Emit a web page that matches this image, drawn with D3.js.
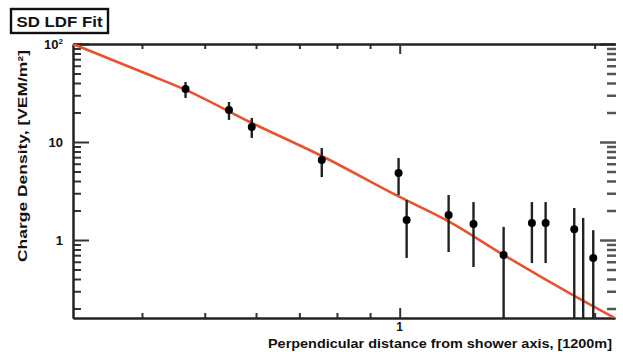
<!DOCTYPE html>
<html><head><meta charset="utf-8">
<script src="https://cdn.jsdelivr.net/npm/d3@7"></script>
<style>
body{margin:0;background:#fff;}
svg text{font-family:"Liberation Sans",Arial,sans-serif;font-weight:bold;fill:#111;}
</style></head>
<body><svg id="c" width="623" height="352"></svg>
<script>
// data (r in units of 1200 m, rho in VEM/m^2)
const pointR    = [0.467,0.545,0.591,0.758,0.996,1.025,1.19,1.30,1.447,1.60,1.68,1.86,1.92,1.99];
const pointRho  = [34.7,21.2,14.2,6.55,4.83,1.60,1.80,1.46,0.703,1.49,1.49,1.29,0.10,0.655];
const errHigh   = [40.9,25.6,17.6,8.68,6.87,2.56,2.88,2.44,1.36,2.44,2.44,2.12,1.68,1.26];
const errLow    = [28.1,16.8,11.0,4.39,2.88,0.655,0.754,0.53,0.01,0.582,0.582,0.01,0.01,0.01];
const showMarker= [1,1,1,1,1,1,1,1,1,1,1,1,0,1];
const fitR      = [0.313,0.411,0.467,0.587,0.758,1.0,1.194,1.447,1.849,2.147];
const fitRho    = [100,48.3,34.0,16.0,7.2,2.75,1.53,0.703,0.275,0.16];
const xMajorTicks = [1];
const xMinorTicks = [0.4,0.5,0.6,0.7,0.8,0.9,2];
const yMajorTicks = [1,10,100];
const yMinorTicks = [0.2,0.3,0.4,0.5,0.6,0.7,0.8,0.9,2,3,4,5,6,7,8,9,20,30,40,50,60,70,80,90];
const yTickLabels = [{v:100,t:"10",sup:"2"},{v:10,t:"10",sup:""},{v:1,t:"1",sup:""}];
const xTickLabels = [{v:1,t:"1"}];
const title = "SD LDF Fit";
const xTitle = "Perpendicular distance from shower axis, [1200m]";
const yTitle = "Charge Density, [VEM/m²]";

const L=73,R=615,T=44,B=318;
const svg=d3.select("#c");
const x=d3.scaleLog().domain([0.313,2.15]).range([L,R]);
const y=d3.scaleLog().domain([0.16,100]).range([B,T]).clamp(true);

const clip=svg.append("defs").append("clipPath").attr("id","pc");
clip.append("rect").attr("x",L).attr("y",T).attr("width",R-L).attr("height",B-T);

function styleAx(g){g.select(".domain").attr("stroke","#222").attr("stroke-width",2);g.selectAll(".tick line").attr("stroke","#333").attr("stroke-width",2);g.selectAll(".tick text").remove();}
svg.append("g").attr("transform",`translate(${L},0)`).call(d3.axisRight(y).tickValues(yMinorTicks).tickSize(8).tickSizeOuter(0)).call(styleAx);
svg.append("g").attr("transform",`translate(${L},0)`).call(d3.axisRight(y).tickValues(yMajorTicks).tickSize(16).tickSizeOuter(0)).call(styleAx);
const rg1=svg.append("g").attr("transform",`translate(${R+1},0)`).call(d3.axisLeft(y).tickValues(yMinorTicks).tickSize(9).tickSizeOuter(0)).call(styleAx);
const rg2=svg.append("g").attr("transform",`translate(${R+1},0)`).call(d3.axisLeft(y).tickValues(yMajorTicks).tickSize(16).tickSizeOuter(0)).call(styleAx);
rg1.select(".domain").remove();rg2.select(".domain").remove();
rg1.selectAll(".tick line").attr("stroke","#555").attr("stroke-width",2.5);
rg2.selectAll(".tick line").attr("stroke","#555").attr("stroke-width",2.5);
svg.append("g").attr("transform",`translate(0,${B})`).call(d3.axisTop(x).tickValues(xMinorTicks).tickSize(5).tickSizeOuter(0)).call(styleAx);
svg.append("g").attr("transform",`translate(0,${B})`).call(d3.axisTop(x).tickValues(xMajorTicks).tickSize(10).tickSizeOuter(0)).call(styleAx);
svg.append("g").attr("transform",`translate(0,${T})`).call(d3.axisBottom(x).tickValues(xMinorTicks).tickSize(5).tickSizeOuter(0)).call(styleAx);
svg.append("g").attr("transform",`translate(0,${T})`).call(d3.axisBottom(x).tickValues(xMajorTicks).tickSize(10).tickSizeOuter(0)).call(styleAx);

yTickLabels.forEach(d=>{
  const t=svg.append("text").attr("x",L-10).attr("y",y(d.v)+5).attr("text-anchor","end").style("font-size","13px");
  t.append("tspan").text(d.t);
  if(d.sup){t.append("tspan").attr("dy",-5).style("font-size","8px").text(d.sup);}
});
xTickLabels.forEach(d=>{
  svg.append("text").attr("x",x(d.v)).attr("y",B+13).attr("text-anchor","middle").style("font-size","12px").text(d.t);
});

const plot=svg.append("g").attr("clip-path","url(#pc)");
const fitData=fitR.map((r,i)=>({r,v:fitRho[i]}));
plot.append("path").datum(fitData)
  .attr("d",d3.line().x(d=>x(d.r)).y(d=>y(d.v)).curve(d3.curveMonotoneX))
  .attr("fill","none").attr("stroke","#e8532e").attr("stroke-width",2.6).attr("stroke-linejoin","round");

const pts=pointR.map((r,i)=>({r,v:pointRho[i],hi:errHigh[i],lo:errLow[i],m:showMarker[i]}));
plot.selectAll("line.err").data(pts).join("line").attr("class","err")
  .attr("x1",d=>x(d.r)).attr("x2",d=>x(d.r)).attr("y1",d=>y(d.hi)).attr("y2",d=>y(d.lo))
  .attr("stroke","#222").attr("stroke-width",2.4);
plot.selectAll("circle.pt").data(pts.filter(d=>d.m)).join("circle").attr("class","pt")
  .attr("cx",d=>x(d.r)).attr("cy",d=>y(d.v)).attr("r",4).attr("fill","#000");

svg.append("text").attr("x",612).attr("y",348).attr("text-anchor","end").style("font-size","12.5px")
  .attr("textLength",344).attr("lengthAdjust","spacingAndGlyphs").text(xTitle);
svg.append("text").attr("transform","translate(27,156) rotate(-90)").attr("text-anchor","middle").style("font-size","13px")
  .attr("textLength",212).attr("lengthAdjust","spacingAndGlyphs").text(yTitle);

svg.append("rect").attr("x",11).attr("y",9).attr("width",97).attr("height",24).attr("fill","#fff").attr("stroke","#111").attr("stroke-width",2.4);
svg.append("text").attr("x",59.5).attr("y",27).attr("text-anchor","middle").style("font-size","15px")
  .attr("textLength",86).attr("lengthAdjust","spacingAndGlyphs").text(title);
</script></body></html>
